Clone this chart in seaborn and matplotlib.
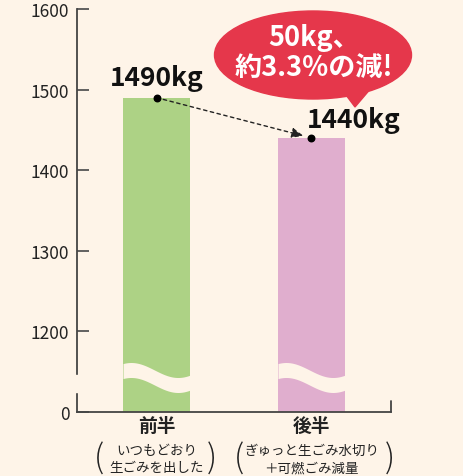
import numpy as np
import pandas as pd
import seaborn as sns
import matplotlib.pyplot as plt
from matplotlib.patches import Ellipse, Polygon, Rectangle

# data
categories = ["前半", "後半"]
weights = [1490, 1440]
value_labels = ["1490kg", "1440kg"]
sub_line1 = ["いつもどおり", "ぎゅっと生ごみ水切り"]
sub_line2 = ["生ごみを出した", "＋可燃ごみ減量"]
ytick_vals = [1100, 1200, 1300, 1400, 1500, 1600]   # 1100 stands for 0 (broken axis)
ytick_labels = ["0", "1200", "1300", "1400", "1500", "1600"]
callout = "50kg、\n約3.3%の減!"

bg = "#FEF4E8"
bar_colors = ["#ADD285", "#E0AECE"]
red = "#E5374B"

sns.set_style("ticks")
plt.rcParams["font.family"] = ["Noto Sans CJK JP", "DejaVu Sans"]

df = pd.DataFrame({"cat": categories, "kg": weights})

fig = plt.figure(figsize=(4.63, 4.77), dpi=100, facecolor=bg)
ax = fig.add_axes([77 / 463, 64 / 477, 314 / 463, 403 / 477])
ax.set_facecolor(bg)

sns.barplot(data=df, x="cat", y="kg", hue="cat", palette=bar_colors,
            width=0.432, saturation=1, legend=False, ax=ax, zorder=2,
            linewidth=0, edgecolor="none")

ax.set_ylim(1100, 1600)
ax.set_xlim(-0.513, 1.513)
ax.set_yticks(ytick_vals)
ax.set_yticklabels(ytick_labels)
ax.tick_params(axis="y", direction="in", length=8.5, width=1.3, color="#555555",
               labelsize=12.5, labelcolor="#222222", pad=5.5)
ax.tick_params(axis="x", length=0, labelsize=13.5, labelcolor="#222222", pad=3)
ax.set_xlabel("")
ax.set_ylabel("")
for s in ["top", "right"]:
    ax.spines[s].set_visible(False)
for s in ["left", "bottom"]:
    ax.spines[s].set_color("#444444")
    ax.spines[s].set_linewidth(1.3)
for lab in ax.get_xticklabels():
    lab.set_fontweight("bold")

# right end tick on the baseline
ax.plot([1, 1], [0, 11 / 403], transform=ax.transAxes, color="#444444", lw=1.3, clip_on=False)

# gap in the left spine (axis break)
fig.add_artist(Rectangle((73 / 463, 1 - 393 / 477), 8 / 463, 17 / 477,
                         transform=fig.transFigure, color=bg, zorder=5))

# wavy break through the bars
px = 500 / 403
for i in range(len(categories)):
    xs = np.linspace(i - 0.216, i + 0.216, 120)
    t = (xs - xs[0]) / (xs[-1] - xs[0])
    ypx = 378.5 - 7.5 * np.cos(np.pi * (t - 0.12) / 0.7)
    ax.fill_between(xs, 1600 - (ypx - 10 + 7.5) * px, 1600 - (ypx - 10 - 7.5) * px,
                    color=bg, lw=0, zorder=3)

# dots + dashed arrow
ax.scatter([0, 1], weights, s=22, color="black", zorder=6, clip_on=False)
ax.annotate("", xy=(1, weights[1]), xytext=(0, weights[0]),
            arrowprops=dict(arrowstyle="-|>,head_length=0.7,head_width=0.3", color="#222222",
                            ls=(0, (2.5, 2.5)), lw=1.0, shrinkA=0, shrinkB=6), zorder=5)

# value labels
ax.annotate(value_labels[0], xy=(0, weights[0]), xytext=(0, 9), textcoords="offset points",
            ha="center", va="baseline", fontsize=19, fontweight="bold", color="#111111")
ax.annotate(value_labels[1], xy=(1, weights[1]), xytext=(-3, 8), textcoords="offset points",
            ha="left", va="baseline", fontsize=19, fontweight="bold", color="#111111")

# callout bubble
fig.add_artist(Ellipse((313 / 463, 1 - 56 / 477), 197 / 463, 88 / 477,
                       transform=fig.transFigure, color=red, zorder=6))
fig.add_artist(Polygon([(343 / 463, 1 - 92 / 477), (372 / 463, 1 - 88 / 477), (355 / 463, 1 - 108 / 477)],
                       transform=fig.transFigure, color=red, zorder=6))
fig.text(314 / 463, 1 - 53 / 477, callout, ha="center", va="center", fontsize=19.5,
         fontweight="bold", color="white", linespacing=1.1, zorder=7)

# sub labels below categories
xt = ax.get_xaxis_transform()
for i in range(len(categories)):
    ax.text(i, -0.095, sub_line1[i], transform=xt, ha="center", va="center",
            fontsize=9.7, color="#222222")
    ax.text(i, -0.137, sub_line2[i], transform=xt, ha="center", va="center",
            fontsize=9.7, color="#222222")
paren_x = [(-0.37, 0.357), (-0.466, 0.505)]
for i, (l, r) in enumerate(paren_x):
    ax.text(i + l, -0.115, "(", transform=xt, ha="center", va="center",
            fontsize=23, fontweight="light", color="#222222")
    ax.text(i + r, -0.115, ")", transform=xt, ha="center", va="center",
            fontsize=23, fontweight="light", color="#222222")

fig.savefig("out.png", dpi=100, facecolor=bg)
